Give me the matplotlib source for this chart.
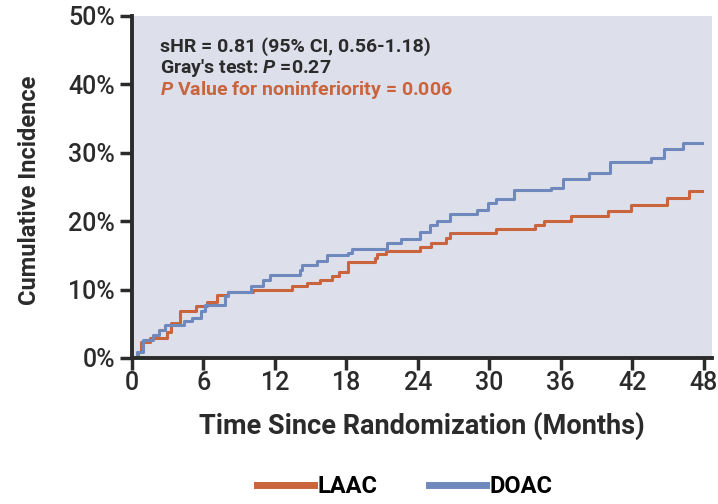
import matplotlib
matplotlib.use("Agg")
import matplotlib.pyplot as plt
from matplotlib.lines import Line2D

# step curves (months, cumulative incidence %)
laac_t = [0, 0.5, 0.8, 1.5, 2.9, 3.3, 4.0, 5.4, 6.3, 7.1, 8.1, 10.2, 13.4, 14.7, 15.8,
          16.8, 17.4, 18.1, 20.4, 20.6, 21.3, 24.2, 25.1, 26.4, 26.7, 30.6, 33.8,
          34.6, 36.9, 40.0, 41.9, 44.9, 46.8, 47.9]
laac_y = [0, 0.9, 2.4, 2.9, 3.8, 5.1, 6.8, 7.6, 8.2, 9.2, 9.6, 10.0, 10.5, 10.9, 11.4,
          12.0, 12.5, 14.1, 14.6, 15.2, 15.6, 16.2, 16.8, 17.5, 18.2, 18.8, 19.4,
          20.1, 20.8, 21.5, 22.3, 23.4, 24.4, 24.4]

doac_t = [0, 0.4, 0.95, 1.8, 2.3, 2.8, 4.4, 5.0, 5.8, 6.1, 7.8, 8.1, 10.0, 11.0, 11.6,
          14.1, 14.3, 15.5, 16.4, 18.1, 18.5, 21.4, 22.6, 24.2, 25.0, 25.6, 26.7,
          29.0, 29.9, 30.6, 32.1, 35.2, 36.2, 38.4, 40.1, 43.6, 44.7, 46.3, 47.9]
doac_y = [0, 0.9, 2.6, 3.4, 4.1, 4.8, 5.4, 5.9, 6.8, 7.7, 9.0, 9.7, 10.5, 11.4, 12.1,
          12.8, 13.6, 14.2, 15.0, 15.3, 16.0, 16.8, 17.4, 18.4, 19.4, 20.0, 21.0,
          21.6, 22.6, 23.2, 24.5, 24.9, 26.2, 27.0, 28.6, 29.3, 30.5, 31.4, 31.4]

x_ticks = [0, 6, 12, 18, 24, 30, 36, 42, 48]
y_ticks = [0, 10, 20, 30, 40, 50]
y_tick_labels = ["0%", "10%", "20%", "30%", "40%", "50%"]

orange = "#C9643C"
blue = "#7089BD"
dark = "#2B2B2B"

plt.rcParams["font.family"] = ["Roboto", "DejaVu Sans"]
plt.rcParams["mathtext.fontset"] = "custom"
plt.rcParams["mathtext.bfit"] = "Roboto:bold:italic"
plt.rcParams["mathtext.it"] = "Roboto:italic"
plt.rcParams["mathtext.rm"] = "Roboto"

fig = plt.figure(figsize=(7.18, 5.04), dpi=100)
ax = fig.add_axes([0.1838, 0.2897, 0.8078, 0.6786])
ax.set_facecolor("#DDDFEB")

ax.step(laac_t, laac_y, where="post", color=orange, lw=2.2)
ax.step(doac_t, doac_y, where="post", color=blue, lw=2.2)

ax.set_xlim(0, 48.7)
ax.set_ylim(0, 50)
ax.set_xticks(x_ticks)
ax.set_yticks(y_ticks)
ax.set_yticklabels(y_tick_labels)
ax.tick_params(axis="both", direction="out", length=8.6, width=2.5, color=dark,
               labelsize=18, labelcolor=dark)
ax.tick_params(axis="y", pad=3.5)
ax.tick_params(axis="x", pad=1)
for lbl in ax.get_xticklabels() + ax.get_yticklabels():
    lbl.set_fontweight("medium")

for s in ["top", "right"]:
    ax.spines[s].set_visible(False)
for s in ["left", "bottom"]:
    ax.spines[s].set_linewidth(2.8)
    ax.spines[s].set_color(dark)

ax.set_xlabel("Time Since Randomization (Months)", fontsize=19.5, fontweight="bold",
              color=dark, labelpad=12)
ax.set_ylabel("Cumulative Incidence", fontsize=17, fontweight="bold", color=dark)
ax.yaxis.set_label_coords(-0.157, 0.49)

ax.text(0.048, 0.895, "sHR = 0.81 (95% CI, 0.56-1.18)", transform=ax.transAxes,
        fontsize=14, fontweight="bold", color=dark, va="baseline")
ax.text(0.048, 0.833, "Gray's test: $\\bfit{P}$ =0.27", transform=ax.transAxes,
        fontsize=14, fontweight="bold", color=dark, va="baseline")
ax.text(0.048, 0.769, "$\\bfit{P}$ Value for noninferiority = 0.006", transform=ax.transAxes,
        fontsize=14, fontweight="bold", color=orange, va="baseline")

handles = [Line2D([], [], color=orange, lw=5), Line2D([], [], color=blue, lw=5)]
fig.legend(handles, ["LAAC", "DOAC"], loc="center", bbox_to_anchor=(0.564, 0.034),
           ncol=2, frameon=False, handlelength=2.4, handletextpad=0.15, columnspacing=2.2,
           prop={"weight": "bold", "size": 17})

fig.savefig("out.png", dpi=100)
